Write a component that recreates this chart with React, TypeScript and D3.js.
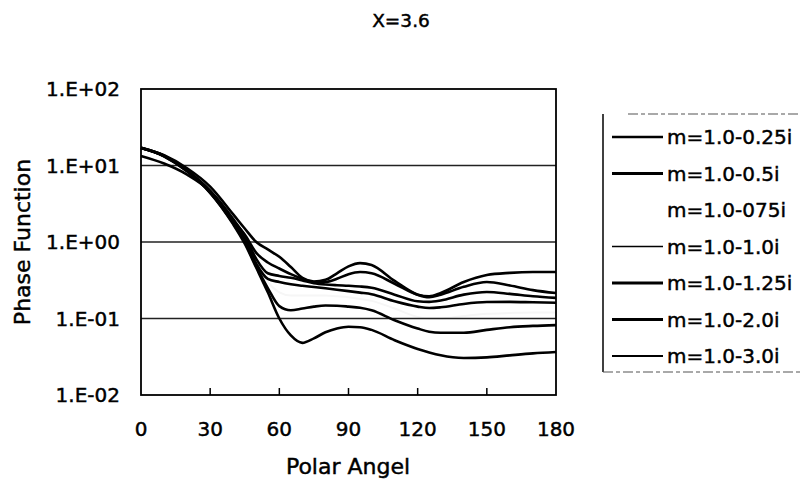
import React from "react";
import * as d3 from "d3";

const title = "X=3.6";
const xTicks = [0, 30, 60, 90, 120, 150, 180];
const yTicks = [0.01, 0.1, 1, 10, 100];
const yTickLabels = ["1.E-02", "1.E-01", "1.E+00", "1.E+01", "1.E+02"];

const angles = [0, 10, 20, 30, 40, 45, 50, 55, 60, 65, 70, 75, 80, 85, 90, 95, 100, 110, 120, 125, 130, 140, 150, 160, 170, 180];

const m025 = [17, 13.2, 8.4, 4.4, 1.7, 0.95, 0.46, 0.22, 0.1, 0.06, 0.048, 0.055, 0.066, 0.074, 0.078, 0.077, 0.071, 0.052, 0.04, 0.036, 0.033, 0.0305, 0.031, 0.033, 0.035, 0.0365];
const m05 = [17, 13.2, 8.4, 4.4, 1.75, 1.0, 0.48, 0.25, 0.145, 0.128, 0.135, 0.143, 0.148, 0.147, 0.143, 0.138, 0.128, 0.095, 0.074, 0.067, 0.065, 0.065, 0.071, 0.077, 0.08, 0.082];
const m075 = [17, 13.3, 8.5, 4.5, 1.8, 1.05, 0.52, 0.3, 0.22, 0.2, 0.2, 0.2, 0.2, 0.195, 0.19, 0.18, 0.17, 0.135, 0.105, 0.1, 0.1, 0.108, 0.115, 0.118, 0.12, 0.12];
const m10 = [17, 13.4, 8.6, 4.6, 1.9, 1.1, 0.52, 0.33, 0.3, 0.28, 0.268, 0.258, 0.248, 0.238, 0.228, 0.218, 0.208, 0.168, 0.143, 0.137, 0.14, 0.155, 0.164, 0.165, 0.163, 0.161];
const m125 = [17, 13.4, 8.6, 4.7, 2.0, 1.2, 0.6, 0.39, 0.36, 0.34, 0.315, 0.29, 0.278, 0.272, 0.268, 0.262, 0.252, 0.205, 0.168, 0.165, 0.172, 0.205, 0.222, 0.21, 0.195, 0.186];
const m20 = [17, 13.6, 9.2, 5.3, 2.3, 1.5, 1.0, 0.8, 0.64, 0.47, 0.34, 0.305, 0.32, 0.39, 0.48, 0.53, 0.5, 0.31, 0.205, 0.19, 0.205, 0.26, 0.3, 0.27, 0.235, 0.215];
const m30 = [13.3, 10.6, 7.6, 4.6, 1.9, 1.25, 0.72, 0.54, 0.45, 0.38, 0.33, 0.3, 0.3, 0.33, 0.38, 0.405, 0.39, 0.285, 0.205, 0.195, 0.215, 0.3, 0.37, 0.395, 0.405, 0.405];

const seriesNames = ["m=1.0-0.25i", "m=1.0-0.5i", "m=1.0-075i", "m=1.0-1.0i", "m=1.0-1.25i", "m=1.0-2.0i", "m=1.0-3.0i"];
const seriesValues = [m025, m05, m075, m10, m125, m20, m30];
const seriesColors = ["#000", "#000", "#f6f6f6", "#000", "#000", "#000", "#000"];
const legendWidths = [2.4, 2.9, 0, 1.4, 2.9, 2.9, 2.2];

export default function App() {
  const left = 141, right = 556, top = 89, bottom = 395;
  const x = d3.scaleLinear().domain([0, 180]).range([left, right]);
  const y = d3.scaleLog().domain([0.01, 100]).range([bottom, top]);
  const line = d3
    .line<[number, number]>()
    .x((d) => x(d[0]))
    .y((d) => y(d[1]))
    .curve(d3.curveMonotoneX);
  const font = "'DejaVu Sans', sans-serif";
  const order = [2, 0, 1, 3, 4, 5, 6];
  const legX = 603, legTop = 114, legBottom = 372;
  const txt = { fill: "#000", stroke: "#000", strokeWidth: 0.45 };
  return (
    <svg width={804} height={490} style={{ position: "absolute", left: 0, top: 0, background: "#fff" }} fontFamily={font}>
      <rect x={0} y={0} width={804} height={490} fill="#fff" />
      <text x={401} y={27} textAnchor="middle" fontSize={18.5} {...txt}>{title}</text>
      <path d={line(angles.map((a, i) => [a, m075[i]]) as any) || ""} fill="none" stroke={seriesColors[2]} strokeWidth={2} />
      {yTicks.slice(1, 4).map((t) => (
        <line key={t} x1={left} x2={right} y1={y(t)} y2={y(t)} stroke="#222" strokeWidth={1.5} />
      ))}
      {order.filter((k) => k !== 2).map((k) => (
        <path
          key={k}
          d={line(angles.map((a, i) => [a, seriesValues[k][i]]) as any) || ""}
          fill="none"
          stroke={seriesColors[k]}
          strokeWidth={2.6}
        />
      ))}
      <rect x={left} y={top} width={right - left} height={bottom - top} fill="none" stroke="#000" strokeWidth={1.8} />
      {xTicks.slice(1, -1).map((t) => (
        <line key={t} x1={x(t)} x2={x(t)} y1={bottom} y2={bottom - 7} stroke="#000" strokeWidth={1.5} />
      ))}
      {xTicks.map((t) => (
        <text key={t} x={x(t)} y={436} textAnchor="middle" fontSize={20} {...txt}>{t}</text>
      ))}
      {yTicks.map((t, i) => (
        <text key={t} x={120} y={y(t)} dy="0.36em" textAnchor="end" fontSize={20} {...txt}>{yTickLabels[i]}</text>
      ))}
      <text x={348} y={474} textAnchor="middle" fontSize={22} {...txt}>Polar Angel</text>
      <text transform={`translate(30,242) rotate(-90)`} textAnchor="middle" fontSize={22} {...txt}>Phase Function</text>
      <line x1={legX} x2={legX} y1={legTop} y2={legBottom} stroke="#000" strokeWidth={1.5} />
      <line x1={628} x2={798} y1={legTop} y2={legTop} stroke="#555" strokeWidth={1.2} strokeDasharray="10 3 4 3" />
      <line x1={legX} x2={800} y1={legBottom} y2={legBottom} stroke="#555" strokeWidth={1.2} strokeDasharray="10 3 4 3" />
      {seriesNames.map((n, i) => {
        const ly = 137 + i * 36.5;
        return (
          <g key={n}>
            {legendWidths[i] > 0 && (
              <line x1={612} x2={663} y1={ly} y2={ly} stroke="#000" strokeWidth={legendWidths[i]} />
            )}
            <text x={667} y={ly} dy="0.36em" fontSize={20} {...txt}>{n}</text>
          </g>
        );
      })}
    </svg>
  );
}
